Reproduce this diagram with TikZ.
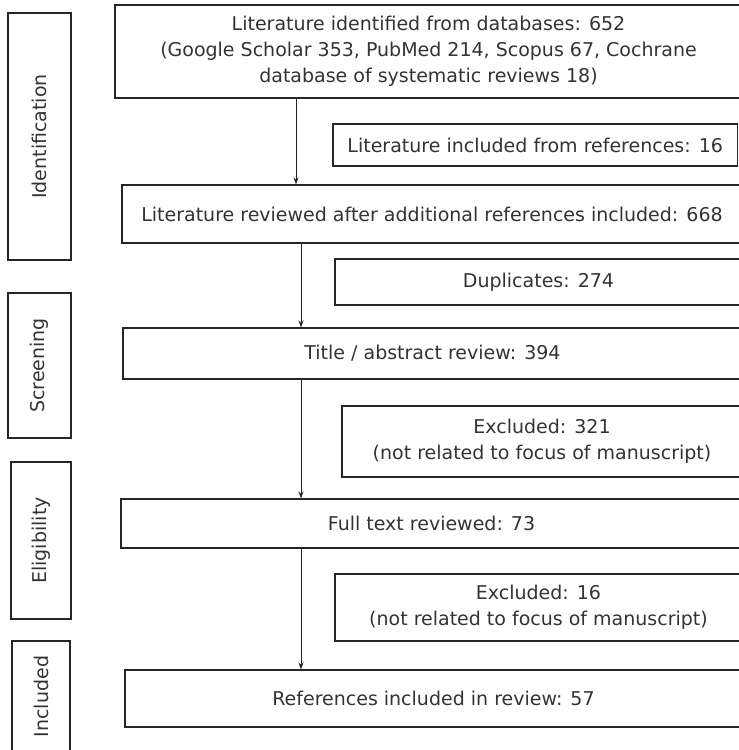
\documentclass[tikz,border=0pt]{standalone}
\usepackage{fontspec}
\setmainfont{DejaVu Sans}
\usepackage{tikz}
\usetikzlibrary{arrows.meta,positioning}

\begin{document}
\begin{tikzpicture}[
			x = 1pt, y = -1pt,
			every node/.style = {font = \fontsize{19}{26}\selectfont, text = black!80},
			box/.style = {draw = black!85, line width = 1.1pt, inner sep = 0pt, align = center},
			stage/.style = {box, rotate = 90},
			flow/.style = {-{Stealth[length=7pt,width=5pt]}, line width = 0.9pt, black!85}
		]

			\clip (0,0) rectangle (739,750);

			% stages on the left
			\node[stage, minimum width = 247, minimum height = 63] (idstage) at (39.5,136.5) {Identification};
			\node[stage, minimum width = 145, minimum height = 63] (scrstage) at (39.5,365.5) {Screening};
			\node[stage, minimum width = 157, minimum height = 60] (eligstage) at (41,540.5) {Eligibility};
			\node[stage, minimum width = 111, minimum height = 58] (inclstage) at (41,696.5) {Included};

			% main column
			\node[box, minimum width = 627, minimum height = 93] (ident) at (428.5,51.5) {Literature identified from databases: 652\\(Google Scholar 353, PubMed 214, Scopus 67, Cochrane\\database of systematic reviews 18)};
			\node[box, minimum width = 620, minimum height = 58] (rev) at (432,214) {Literature reviewed after additional references included: 668};
			\node[box, minimum width = 619, minimum height = 51] (title) at (432.5,353.5) {Title / abstract review: 394};
			\node[box, minimum width = 621, minimum height = 49] (full) at (431.5,523.5) {Full text reviewed: 73};
			\node[box, minimum width = 617, minimum height = 57] (refs) at (433.5,698.5) {References included in review: 57};

			% side boxes
			\node[box, minimum width = 404.5, minimum height = 42] (incref) at (535.25,145) {Literature included from references: 16};
			\node[box, minimum width = 407, minimum height = 46] (dup) at (538.5,282) {Duplicates: 274};
			\node[box, minimum width = 400, minimum height = 71] (excla) at (542,441.5) {Excluded: 321\\(not related to focus of manuscript)};
			\node[box, minimum width = 407, minimum height = 67] (exclb) at (538.5,607.5) {Excluded: 16\\(not related to focus of manuscript)};

			\coordinate (cola) at (296,0);
			\coordinate (colb) at (301,0);

			\draw[flow] (ident.south -| cola) -- (rev.north -| cola);
			\draw[flow] (rev.south -| colb) -- (title.north -| colb);
			\draw[flow] (title.south -| colb) -- (full.north -| colb);
			\draw[flow] (full.south -| colb) -- (refs.north -| colb);

		\end{tikzpicture}
\end{document}
